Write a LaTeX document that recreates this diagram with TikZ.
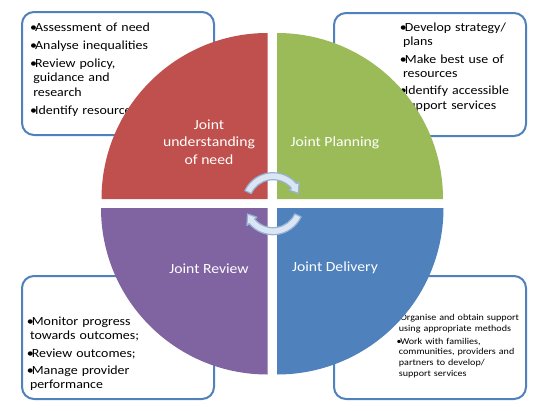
\documentclass[tikz,border=0pt]{standalone}
\usepackage{fontspec}
\setmainfont{Carlito}[FakeStretch=1.12]
\definecolor{qred}{HTML}{C0504D}
\definecolor{qgreen}{HTML}{9BBB59}
\definecolor{qblue}{HTML}{4F81BD}
\definecolor{qpurple}{HTML}{8064A2}
\definecolor{boxline}{HTML}{4F81BD}
\definecolor{arrfill}{HTML}{DCE6F2}
\definecolor{arrline}{HTML}{95B3D7}
\newcommand\bul{\par\noindent\makebox[0.4em][l]{•}}
\newcommand\cnt{\par\noindent\hspace*{0.25em}}
\newcommand\igap[1]{\par\vspace{#1}}
\tikzset{
  infobox/.style={draw=boxline, line width=2pt, rounded corners=12pt, fill=white,
    inner sep=0pt, anchor=north west, minimum width=192pt, minimum height=123pt},
  infotext/.style={anchor=north west, inner sep=0pt, text width=170pt, align=left,
    font=\fontsize{12.4}{14.3}\selectfont},
  smalltext/.style={anchor=north west, inner sep=0pt, text width=170pt, align=left,
    font=\fontsize{9}{10.8}\selectfont},
  qlabel/.style={text=white, font=\fontsize{14}{17.5}\selectfont, align=center, inner sep=0pt},
  cyc/.style={fill=arrfill, draw=arrline, line width=1.2pt, line join=round}
}
\begin{document}
\begin{tikzpicture}[x=1pt,y=1pt]
\useasboundingbox (0,0) rectangle (546,-410);
\fill[white] (0,0) rectangle (546,-410);
% boxes
\node[infobox] (box1) at (21,-11) {};
\node[infobox] (box2) at (333,-12) {};
\node[infobox] (box3) at (21,-275) {};
\node[infobox] (box4) at (333,-275) {};
% box texts
\node[infotext] (t1) at (30,-16.5) {\bul Assessment of need\igap{4pt}\bul Analyse inequalities\igap{4pt}\bul Review policy,\cnt guidance and\cnt research\igap{4pt}\bul Identify resources};
\node[infotext] (t2) at (399.7,-17) {\bul Develop strategy/\cnt plans\igap{3pt}\bul Make best use of\cnt resources\igap{3pt}\bul Identify accessible\cnt support services};
\node[infotext] (t3) at (26.7,-311) {\bul Monitor progress\cnt towards outcomes;\igap{3pt}\bul Review outcomes;\igap{3pt}\bul Manage provider\cnt performance};
\node[smalltext] (t4) at (396.5,-309.5) {\bul Organise and obtain support\cnt using appropriate methods\igap{2pt}\bul Work with families,\cnt communities, providers and\cnt partners to develop/\cnt support services};
% quadrants
\fill[qred] (267.5,-199) -- ++(180:166) arc[start angle=180, end angle=90, radius=166] -- cycle;
\fill[qgreen] (277,-199) -- ++(90:166) arc[start angle=90, end angle=0, radius=166] -- cycle;
\fill[qblue] (277,-208) -- ++(0:166.5) arc[start angle=0, end angle=-90, radius=166.5] -- cycle;
\fill[qpurple] (267.5,-208) -- ++(-90:166.5) arc[start angle=-90, end angle=-180, radius=166.5] -- cycle;
% labels
\node[qlabel] (l1) at (209,-142) {Joint\\understanding\\of need};
\node[qlabel] (l2) at (335,-143) {Joint Planning};
\node[qlabel] (l3) at (209,-269) {Joint Review};
\node[qlabel] (l4) at (335,-268) {Joint Delivery};
% cycle arrows
\coordinate (hub) at (273,-203.7);
\begin{scope}[shift={(hub)}]
\draw[cyc] (155:31) arc[start angle=155, end angle=40, radius=31] -- (40:34) -- (22:27.5) -- (40:21) -- (40:24) arc[start angle=40, end angle=155, radius=24] -- cycle;
\draw[cyc] (-25:31) arc[start angle=-25, end angle=-140, radius=31] -- (-140:34) -- (-158:27.5) -- (-140:21) -- (-140:24) arc[start angle=-140, end angle=-25, radius=24] -- cycle;
\end{scope}
\end{tikzpicture}
\end{document}
